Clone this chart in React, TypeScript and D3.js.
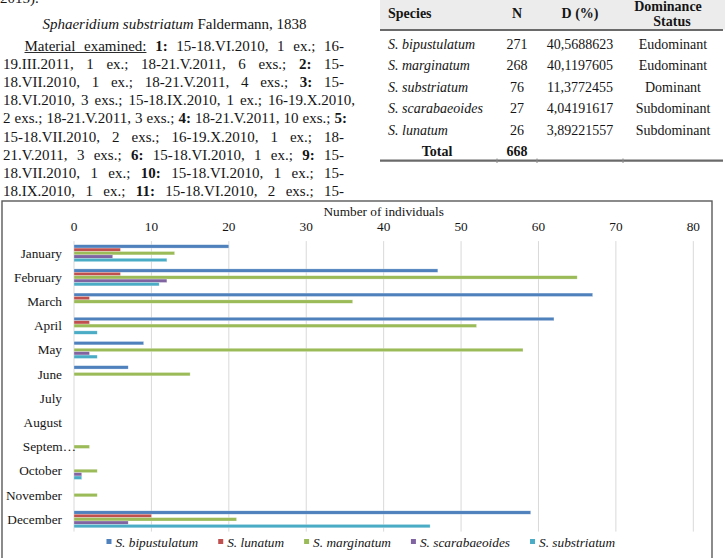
import React, { useMemo } from 'react';
import * as d3 from 'd3';

// ---------- data ----------
const months = ['January', 'February', 'March', 'April', 'May', 'June', 'July', 'August', 'September', 'October', 'November', 'December'];
const monthLabels = ['January', 'February', 'March', 'April', 'May', 'June', 'July', 'August', 'Septem\u2026', 'October', 'November', 'December'];
const seriesNames = ['S. bipustulatum', 'S. lunatum', 'S. marginatum', 'S. scarabaeoides', 'S. substriatum'];
const bipustulatum = [20, 47, 67, 62, 9, 7, 0, 0, 0, 0, 0, 59];
const lunatum = [6, 6, 2, 2, 0, 0, 0, 0, 0, 0, 0, 10];
const marginatum = [13, 65, 36, 52, 58, 15, 0, 0, 2, 3, 3, 21];
const scarabaeoides = [5, 12, 0, 0, 2, 0, 0, 0, 0, 1, 0, 7];
const substriatum = [12, 11, 0, 3, 3, 0, 0, 0, 0, 1, 0, 46];
const seriesValues = [bipustulatum, lunatum, marginatum, scarabaeoides, substriatum];
const seriesColors = ['#4F81BD', '#C0504D', '#9BBB59', '#8064A2', '#4BACC6'];
const xTicks = [0, 10, 20, 30, 40, 50, 60, 70, 80];
const axisTitle = 'Number of individuals';

const tableHeader = ['Species', 'N', 'D (%)'];
const tableHeaderStatus = ['Dominance', 'Status'];
const tableSpecies = ['S. bipustulatum', 'S. marginatum', 'S. substriatum', 'S. scarabaeoides', 'S. lunatum'];
const tableN = ['271', '268', '76', '27', '26'];
const tableD = ['40,5688623', '40,1197605', '11,3772455', '4,04191617', '3,89221557'];
const tableStatus = ['Eudominant', 'Eudominant', 'Dominant', 'Subdominant', 'Subdominant'];
const tableTotalLabel = 'Total';
const tableTotal = '668';

const topCutText = '2015).';
const headingItalic = 'Sphaeridium substriatum';
const headingRest = ' Faldermann, 1838';
// '!' = bold word, '_' = underlined word
const paraLines = [
  '_Material _examined: !1: 15-18.VI.2010, 1 ex.; 16-',
  '19.III.2011, 1 ex.; 18-21.V.2011, 6 exs.; !2: 15-',
  '18.VII.2010, 1 ex.; 18-21.V.2011, 4 exs.; !3: 15-',
  '18.VI.2010, 3 exs.; 15-18.IX.2010, 1 ex.; 16-19.X.2010,',
  '2 exs.; 18-21.V.2011, 3 exs.; !4: 18-21.V.2011, 10 exs.; !5:',
  '15-18.VII.2010, 2 exs.; 16-19.X.2010, 1 ex.; 18-',
  '21.V.2011, 3 exs.; !6: 15-18.VI.2010, 1 ex.; !9: 15-',
  '18.VII.2010, 1 ex.; !10: 15-18.VI.2010, 1 ex.; 15-',
  '18.IX.2010, 1 ex.; !11: 15-18.VI.2010, 2 exs.; 15-',
];

// ---------- layout ----------
const FONT = "'Liberation Serif', 'Times New Roman', serif";
const TXT = '#151515';
const paraSize = 15;
const paraLeft = 3;
const paraIndent = 24.5;
const paraRight = [344, 344, 344, 355, 347, 344, 344, 344, 344];
const paraTop = 50.5;
const paraStep = 18.2;

export default function App() {
  const measure = useMemo(() => {
    const c = document.createElement('canvas').getContext('2d') as CanvasRenderingContext2D;
    return (t: string, font: string) => {
      c.font = font;
      return c.measureText(t).width;
    };
  }, []);

  // chart scales
  const x = d3.scaleLinear().domain([0, 80]).range([74, 693.3]);
  const y = d3.scaleBand<string>().domain(months).range([241.1, 531.4]).padding(0);
  const ys = d3.scaleBand<string>().domain(seriesNames).range([0, y.bandwidth()]).paddingInner(0).paddingOuter(1.06);

  // paragraph layout
  const para = paraLines.map((line, i) => {
    const words = line.split(' ').map((w) => {
      const bold = w.startsWith('!');
      const under = w.startsWith('_');
      const t = bold || under ? w.slice(1) : w;
      const width = measure(t, `${bold ? 'bold ' : ''}${paraSize}px ${FONT}`);
      return { t, bold, under, width };
    });
    const start = i === 0 ? paraIndent : paraLeft;
    const total = d3.sum(words, (w) => w.width);
    const gap = (paraRight[i] - start - total) / (words.length - 1);
    let cx = start;
    const placed = words.map((w) => {
      const o = { ...w, x: cx };
      cx += w.width + gap;
      return o;
    });
    return { placed, baseline: paraTop + i * paraStep };
  });

  // legend layout
  const legFont = `italic 13.3px ${FONT}`;
  const legItems = seriesNames.map((s) => 9 + measure(s, legFont));
  const legGap = 20;
  const legTotal = d3.sum(legItems) + legGap * (legItems.length - 1);
  let lx = 360.8 - legTotal / 2;
  const legPos = legItems.map((w) => {
    const p = lx;
    lx += w + legGap;
    return p;
  });

  const headingW = measure(headingItalic, `italic ${paraSize}px ${FONT}`) + measure(headingRest, `${paraSize}px ${FONT}`);
  const headingX = 174.5 - headingW / 2;

  const rowBase = [48.5, 70, 91.5, 113, 134.5];
  const colSpeciesX = 388;
  const colN = 517;
  const colD = 580;
  const colS = 673;

  return (
    <svg width={725} height={558} style={{ position: 'absolute', left: 0, top: 0, background: '#fff' }} fontFamily={FONT}>
      <rect x={0} y={0} width={725} height={558} fill="#fff" />

      {/* ----- text column ----- */}
      <text x={0} y={3} fontSize={paraSize} fill={TXT}>{topCutText}</text>
      <text x={headingX} y={29} fontSize={paraSize} fill={TXT}>
        <tspan fontStyle="italic">{headingItalic}</tspan>
        <tspan>{headingRest}</tspan>
      </text>
      {para.map((ln, i) => (
        <g key={i}>
          {ln.placed.map((w, j) => (
            <text key={j} x={w.x} y={ln.baseline} fontSize={paraSize} fontWeight={w.bold ? 'bold' : 'normal'} fill={TXT}>
              {w.t}
            </text>
          ))}
          {i === 0 && (() => {
            const u = ln.placed.filter((w) => w.under);
            if (!u.length) return null;
            const last = u[u.length - 1];
            return <line x1={u[0].x} x2={last.x + last.width} y1={ln.baseline + 2} y2={ln.baseline + 2} stroke={TXT} strokeWidth={0.9} />;
          })()}
        </g>
      ))}

      {/* ----- table ----- */}
      <rect x={380} y={0} width={345} height={29.5} fill="#ececec" />
      <line x1={380} x2={723} y1={30} y2={30} stroke="#6a6a6a" strokeWidth={2.2} />
      <text x={colSpeciesX} y={18} fontSize={14} fontWeight="bold" fill={TXT}>{tableHeader[0]}</text>
      <text x={colN} y={18} fontSize={14} fontWeight="bold" fill={TXT} textAnchor="middle">{tableHeader[1]}</text>
      <text x={colD} y={18} fontSize={14} fontWeight="bold" fill={TXT} textAnchor="middle">{tableHeader[2]}</text>
      <text x={668} y={11} fontSize={14} fontWeight="bold" fill={TXT} textAnchor="middle">{tableHeaderStatus[0]}</text>
      <text x={672} y={25.5} fontSize={14} fontWeight="bold" fill={TXT} textAnchor="middle">{tableHeaderStatus[1]}</text>
      {tableSpecies.map((s, i) => (
        <g key={s} fontSize={14} fill={TXT}>
          <text x={colSpeciesX} y={rowBase[i]} fontStyle="italic">{s}</text>
          <text x={colN} y={rowBase[i]} textAnchor="middle">{tableN[i]}</text>
          <text x={colD} y={rowBase[i]} textAnchor="middle">{tableD[i]}</text>
          <text x={colS} y={rowBase[i]} textAnchor="middle">{tableStatus[i]}</text>
        </g>
      ))}
      <text x={437} y={156} fontSize={14} fontWeight="bold" fill={TXT} textAnchor="middle">{tableTotalLabel}</text>
      <text x={colN} y={156} fontSize={14} fontWeight="bold" fill={TXT} textAnchor="middle">{tableTotal}</text>
      <line x1={380} x2={723} y1={160.7} y2={160.7} stroke="#6a6a6a" strokeWidth={2.2} />
      {[497, 537, 623].map((cx) => (
        <line key={cx} x1={cx} x2={cx} y1={158.5} y2={163} stroke="#8a8a8a" strokeWidth={1} />
      ))}

      {/* ----- chart ----- */}
      <rect x={2} y={201} width={710} height={400} fill="#fff" stroke="#5a5a5a" strokeWidth={1.4} />
      <text x={(x(0) + x(80)) / 2} y={215.5} fontSize={13.3} textAnchor="middle" fill={TXT}>{axisTitle}</text>
      {xTicks.map((t) => (
        <g key={t}>
          <line x1={x(t)} x2={x(t)} y1={241.1} y2={531.6} stroke="#d9d9d9" strokeWidth={1} />
          <text x={x(t)} y={230.5} fontSize={13.3} textAnchor="middle" fill={TXT}>{t}</text>
        </g>
      ))}
      {months.map((m, i) => (
        <text
          key={m}
          x={m === 'September' ? 76 : 62}
          y={(y(m) as number) + y.bandwidth() / 2 + 4.5}
          fontSize={13.3}
          textAnchor="end"
          fill={TXT}
        >
          {monthLabels[i]}
        </text>
      ))}
      {seriesNames.map((s, si) => (
        <g key={s} fill={seriesColors[si]} stroke="#ffffff" strokeOpacity={0.55} strokeWidth={0.5}>
          {seriesValues[si].map((v, mi) =>
            v > 0 ? (
              <rect
                key={mi}
                x={x(0)}
                y={(y(months[mi]) as number) + (ys(s) as number)}
                width={x(v) - x(0)}
                height={ys.bandwidth()}
              />
            ) : null
          )}
        </g>
      ))}
      {seriesNames.map((s, si) => (
        <g key={s}>
          <rect x={legPos[si]} y={539} width={5} height={5} fill={seriesColors[si]} />
          <text x={legPos[si] + 9} y={546.5} fontSize={13.3} fontStyle="italic" fill={TXT}>{s}</text>
        </g>
      ))}
    </svg>
  );
}
